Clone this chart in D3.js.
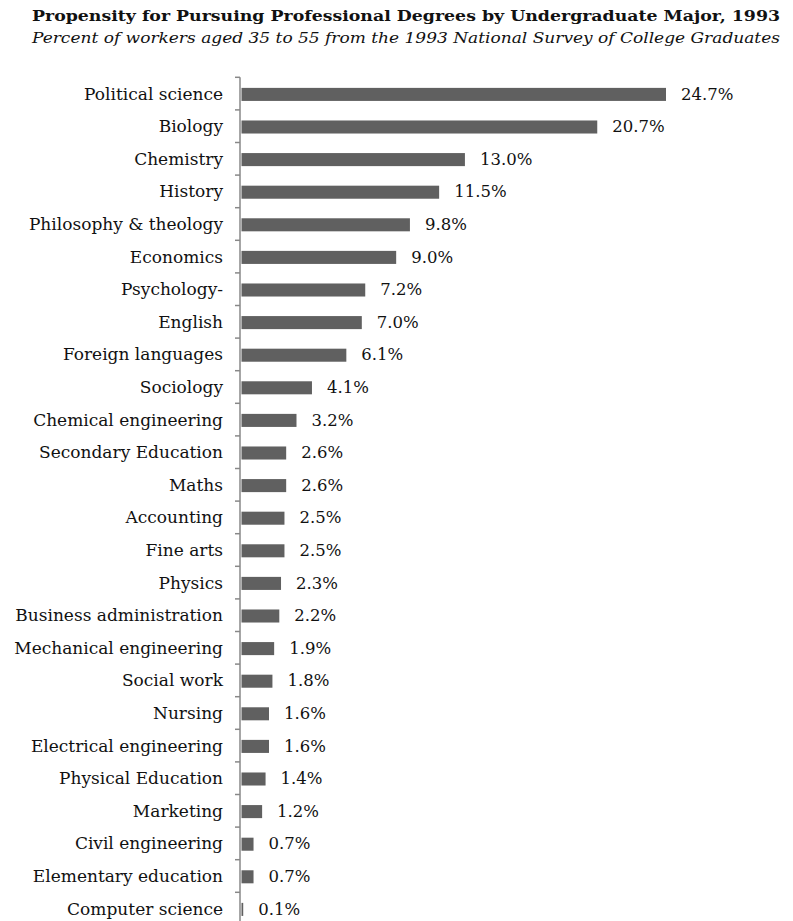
<!DOCTYPE html>
<html>
<head>
	<meta charset="utf-8">
	<title>Professional degrees by major</title>
	<style type="text/css">
		body {
			margin: 0;
			background: #fff;
		}
		svg text {
			font-family: "DejaVu Serif", serif;
			fill: #111;
		}
	</style>
</head>
<body>
	<svg class="viz" width="793" height="921"></svg>

	<script src="https://d3js.org/d3.v7.min.js" charset="utf-8"></script>
	<script type="text/javascript">

		// chart data
		var majors = ['Political science', 'Biology', 'Chemistry', 'History', 'Philosophy & theology',
			'Economics', 'Psychology-', 'English', 'Foreign languages', 'Sociology',
			'Chemical engineering', 'Secondary Education', 'Maths', 'Accounting', 'Fine arts',
			'Physics', 'Business administration', 'Mechanical engineering', 'Social work', 'Nursing',
			'Electrical engineering', 'Physical Education', 'Marketing', 'Civil engineering',
			'Elementary education', 'Computer science'];
		var shares = [24.7, 20.7, 13.0, 11.5, 9.8, 9.0, 7.2, 7.0, 6.1, 4.1, 3.2, 2.6, 2.6, 2.5, 2.5,
			2.3, 2.2, 1.9, 1.8, 1.6, 1.6, 1.4, 1.2, 0.7, 0.7, 0.1];
		var title = 'Propensity for Pursuing Professional Degrees by Undergraduate Major, 1993';
		var subtitle = 'Percent of workers aged 35 to 55 from the 1993 National Survey of College Graduates';

		var data = majors.map(function(m, i) {
			return { major: m, value: shares[i] };
		});

		var canvas = d3.select('.viz');
		var axisX = 240;
		var plotTop = 77.3;
		var step = 32.6;

		var x = d3.scaleLinear()
			.domain([0, 24.7])
			.range([axisX + 1.5, 666]);

		var y = d3.scaleBand()
			.domain(majors)
			.range([plotTop, plotTop + step * majors.length])
			.paddingInner(0.6)
			.paddingOuter(0.3);

		// titles, stretched to the reference width
		canvas.append('text')
			.attr('x', 32)
			.attr('y', 21)
			.attr('textLength', 748)
			.attr('lengthAdjust', 'spacingAndGlyphs')
			.style('font-weight', 'bold')
			.style('font-size', '15px')
			.text(title);
		canvas.append('text')
			.attr('x', 32)
			.attr('y', 43)
			.attr('textLength', 748)
			.attr('lengthAdjust', 'spacingAndGlyphs')
			.style('font-style', 'italic')
			.style('font-size', '15px')
			.text(subtitle);

		// bars
		canvas.selectAll('rect.bar').data(data)
			.enter().append('rect')
				.attr('class', 'bar')
				.attr('fill', '#606060')
				.attr('x', x(0))
				.attr('y', function(d) { return y(d.major) + 0.8; })
				.attr('height', y.bandwidth())
				.attr('width', function(d) { return x(d.value) - x(0); });

		// value labels
		canvas.selectAll('text.val').data(data)
			.enter().append('text')
				.attr('class', 'val')
				.attr('x', function(d) { return x(d.value) + 15; })
				.attr('y', function(d) { return y(d.major) + y.bandwidth() / 2 + 6; })
				.style('font-size', '16.5px')
				.text(function(d) { return d.value.toFixed(1) + '%'; });

		// category labels
		canvas.selectAll('text.cat').data(data)
			.enter().append('text')
				.attr('class', 'cat')
				.attr('x', 223)
				.attr('y', function(d) { return y(d.major) + y.bandwidth() / 2 + 6; })
				.attr('text-anchor', 'end')
				.style('font-size', '17px')
				.text(function(d) { return d.major; });

		// axis line and ticks between categories
		canvas.append('line')
			.attr('x1', axisX).attr('x2', axisX)
			.attr('y1', plotTop).attr('y2', plotTop + step * majors.length)
			.attr('stroke', '#888').attr('stroke-width', 1.5);

		canvas.selectAll('line.tick').data(d3.range(majors.length + 1))
			.enter().append('line')
				.attr('class', 'tick')
				.attr('x1', axisX - 5).attr('x2', axisX)
				.attr('y1', function(i) { return plotTop + i * step; })
				.attr('y2', function(i) { return plotTop + i * step; })
				.attr('stroke', '#888').attr('stroke-width', 1.5);

	</script>
</body>
</html>
